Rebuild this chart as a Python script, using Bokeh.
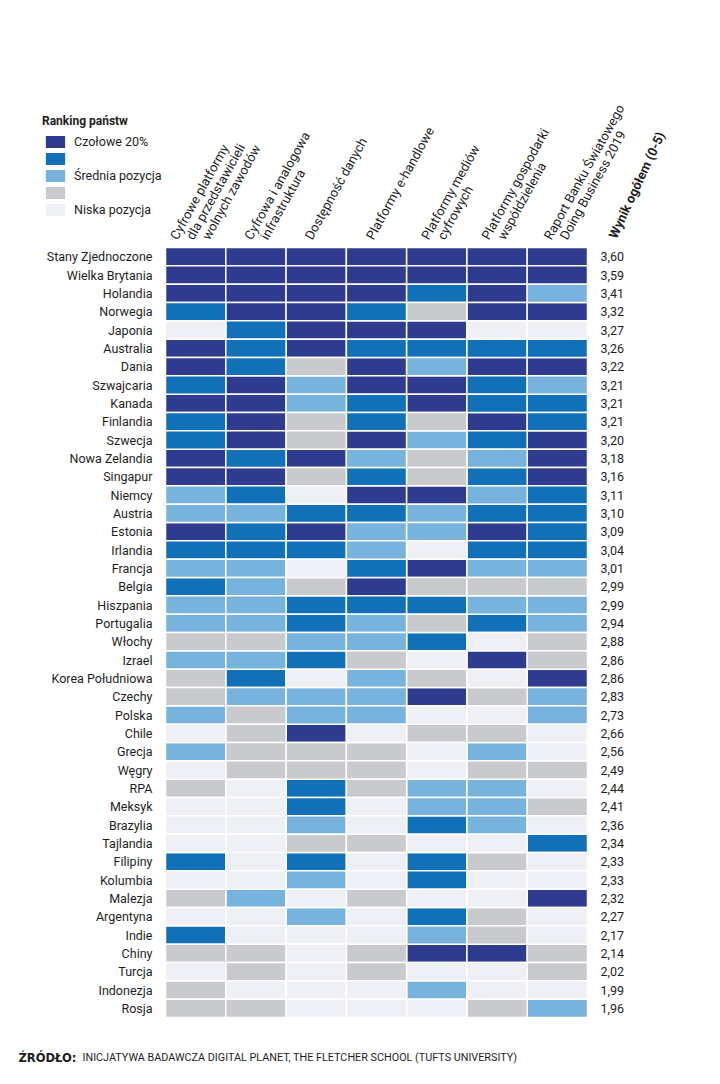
import math
from bokeh.plotting import figure
from bokeh.models import ColumnDataSource, Range1d, Legend, LegendItem
from bokeh.core.properties import value
from bokeh.embed import file_html
from bokeh.resources import INLINE

# ---------------- data ----------------
countries = ["Stany Zjednoczone", "Wielka Brytania", "Holandia", "Norwegia", "Japonia",
             "Australia", "Dania", "Szwajcaria", "Kanada", "Finlandia", "Szwecja",
             "Nowa Zelandia", "Singapur", "Niemcy", "Austria", "Estonia", "Irlandia",
             "Francja", "Belgia", "Hiszpania", "Portugalia", "Włochy", "Izrael",
             "Korea Południowa", "Czechy", "Polska", "Chile", "Grecja", "Węgry", "RPA",
             "Meksyk", "Brazylia", "Tajlandia", "Filipiny", "Kolumbia", "Malezja",
             "Argentyna", "Indie", "Chiny", "Turcja", "Indonezja", "Rosja"]

scores = [3.60, 3.59, 3.41, 3.32, 3.27, 3.26, 3.22, 3.21, 3.21, 3.21, 3.20, 3.18, 3.16,
          3.11, 3.10, 3.09, 3.04, 3.01, 2.99, 2.99, 2.94, 2.88, 2.86, 2.86, 2.83, 2.73,
          2.66, 2.56, 2.49, 2.44, 2.41, 2.36, 2.34, 2.33, 2.33, 2.32, 2.27, 2.17, 2.14,
          2.02, 1.99, 1.96]

column_labels = [
    ["Cyfrowe platformy", "dla przedstawicieli", "wolnych zawodów"],
    ["Cyfrowa i analogowa", "infrastruktura"],
    ["Dostępność danych"],
    ["Platformy e-handlowe"],
    ["Platformy mediów", "cyfrowych"],
    ["Platformy gospodarki", "współdzielenia"],
    ["Raport Banku Światowego", "Doing Business 2019"],
]
score_title = "Wynik ogółem (0-5)"

# ranking level per column: 5 = Czołowe 20% ... 1 = Niska pozycja
c1 = [5, 5, 5, 4, 1, 5, 5, 4, 5, 4, 4, 5, 5, 3, 3, 5, 4, 3, 4, 3, 3, 2, 3, 2, 2, 3,
      1, 3, 1, 2, 1, 1, 1, 4, 1, 2, 1, 4, 2, 1, 2, 2]
c2 = [5, 5, 5, 5, 4, 4, 4, 5, 5, 5, 5, 4, 5, 4, 3, 4, 4, 3, 3, 3, 3, 2, 3, 4, 3, 2,
      2, 2, 2, 1, 1, 1, 1, 1, 1, 3, 1, 1, 2, 2, 1, 2]
c3 = [5, 5, 5, 5, 5, 5, 2, 3, 3, 2, 2, 5, 2, 1, 4, 5, 4, 1, 2, 4, 4, 3, 4, 1, 3, 3,
      5, 2, 2, 4, 4, 3, 2, 4, 3, 1, 3, 1, 1, 1, 1, 1]
c4 = [5, 5, 5, 4, 5, 4, 5, 5, 4, 4, 5, 3, 4, 5, 4, 3, 3, 4, 5, 4, 3, 3, 2, 3, 3, 3,
      1, 2, 2, 2, 1, 1, 2, 1, 1, 2, 1, 1, 2, 2, 1, 1]
c5 = [5, 5, 4, 2, 5, 4, 3, 5, 5, 2, 3, 2, 2, 5, 3, 3, 1, 5, 2, 4, 2, 4, 1, 2, 5, 1,
      2, 1, 1, 3, 3, 4, 1, 4, 4, 1, 4, 3, 5, 1, 3, 1]
c6 = [5, 5, 5, 5, 1, 4, 5, 4, 4, 5, 4, 3, 4, 3, 4, 5, 4, 3, 2, 3, 4, 1, 5, 1, 2, 1,
      2, 3, 2, 3, 3, 3, 1, 2, 1, 1, 2, 2, 5, 1, 1, 2]
c7 = [5, 5, 3, 5, 1, 4, 5, 3, 4, 4, 5, 5, 5, 4, 4, 4, 4, 3, 2, 3, 3, 2, 2, 5, 3, 3,
      1, 1, 2, 1, 2, 1, 4, 1, 1, 5, 1, 1, 2, 2, 1, 3]
level_columns = [c1, c2, c3, c4, c5, c6, c7]

levels = [5, 4, 3, 2, 1]
level_labels = ["Czołowe 20%", " ", "Średnia pozycja", " ", "Niska pozycja"]
level_colors = {5: "#2f3b8e", 4: "#1170b8", 3: "#78b3dd", 2: "#c9cacd", 1: "#eef0f6"}

legend_title = "Ranking państw"
source_bold = "ŹRÓDŁO:"
source_text = "INICJATYWA BADAWCZA DIGITAL PLANET, THE FLETCHER SCHOOL (TUFTS UNIVERSITY)"

# ---------------- layout constants (pixels) ----------------
W, H = 712, 1076
TABLE_LEFT, TABLE_TOP = 165.0, 247.0
COL_W = (587.0 - 165.0) / 7
ROW_H = (1017.0 - 247.0) / 42
FONT = "Roboto"
TXT = "#1e1e1e"


def ux(px):  # pixels -> column units
    return px / COL_W


def uy(px):  # pixels -> row units (downwards)
    return px / ROW_H


n_cols = len(level_columns)
n_rows = len(countries)

p = figure(width=W, height=H, output_backend="svg", toolbar_location=None,
           x_range=Range1d(-ux(TABLE_LEFT), ux(W - TABLE_LEFT)),
           y_range=Range1d(uy(H - TABLE_TOP), -uy(TABLE_TOP)),
           x_axis_location=None, y_axis_location=None, min_border=0)
p.outline_line_color = None
p.grid.visible = False
p.background_fill_color = "white"
p.border_fill_color = "white"

# heatmap cells, one renderer per ranking level
renderers = {}
for lv in levels:
    xs, ys = [], []
    for ci, col in enumerate(level_columns):
        for ri, v in enumerate(col):
            if v == lv:
                xs.append(ci + 0.5)
                ys.append(ri + 0.5)
    src = ColumnDataSource(dict(x=xs, y=ys))
    renderers[lv] = p.rect(x="x", y="y", width=1, height=1, source=src,
                           fill_color=level_colors[lv], line_color="white",
                           line_width=1.5)

row_y = [ri + 0.5 for ri in range(n_rows)]

# country names
p.text(x=[-ux(13)] * n_rows, y=row_y, text=countries, text_align="right",
       text_baseline="middle", text_font=value(FONT), text_font_size=value("12.5px"),
       text_color=TXT)

# overall scores
p.text(x=[n_cols + ux(13)] * n_rows, y=row_y,
       text=[f"{s:.2f}".replace(".", ",") for s in scores], text_align="left",
       text_baseline="middle", text_font=value(FONT), text_font_size=value("12.5px"),
       text_color=TXT)

# rotated column headers, one text per line, stepping right
header_dx = [-22, -8, -8, -7, -12, -12, -10]
hx, hy, ht = [], [], []
for ci, (lines, dx) in enumerate(zip(column_labels, header_dx)):
    for i, line in enumerate(lines):
        hx.append(ci + 0.5 + ux(dx + 16 * i))
        hy.append(-uy(9))
        ht.append(line)
p.text(x=hx, y=hy, text=ht, angle=math.radians(61), text_align="left",
       text_baseline="alphabetic", text_font=value(FONT), text_font_size=value("13px"),
       text_color=TXT)

p.text(x=[n_cols - 0.5 + ux(55)], y=[-uy(10)], text=[score_title], angle=math.radians(65),
       text_align="left", text_baseline="alphabetic", text_font=value(FONT),
       text_font_style="bold", text_font_size=value("13px"), text_color=TXT)

# legend
legend = Legend(items=[LegendItem(label=lab, renderers=[renderers[lv]])
                       for lv, lab in zip(levels, level_labels)],
                location=(42, H - 114 - 104), orientation="vertical",
                title=legend_title, title_text_font=FONT, title_text_font_style="bold",
                title_text_font_size="12px", title_text_color=TXT, title_standoff=5,
                label_text_font=FONT, label_text_font_size="12.5px", label_text_color=TXT,
                glyph_width=26, glyph_height=17, label_height=17, label_standoff=6,
                spacing=0, padding=0, margin=0,
                border_line_color=None, background_fill_alpha=0)
p.add_layout(legend)

# source note
note_y = uy(1057 - TABLE_TOP)
p.text(x=[ux(18 - TABLE_LEFT)], y=[note_y], text=[source_bold], text_align="left",
       text_baseline="alphabetic", text_font=value("DejaVu Sans"), text_font_style="bold",
       text_font_size=value("11.5px"), text_color=TXT)
p.text(x=[ux(82 - TABLE_LEFT)], y=[note_y], text=[source_text], text_align="left",
       text_baseline="alphabetic", text_font=value(FONT), text_font_size=value("10.8px"),
       text_color=TXT)

open("out.html", "w").write(file_html(p, INLINE))
